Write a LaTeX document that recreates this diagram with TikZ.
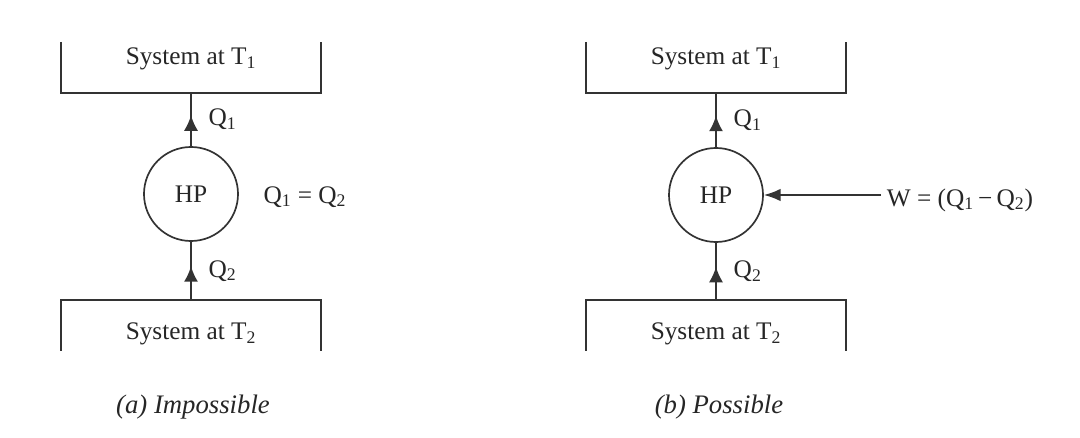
\documentclass[tikz,border=0pt]{standalone}
\usepackage{fontspec}
\setmainfont{Liberation Serif}
\usetikzlibrary{calc,arrows.meta,decorations.markings}

\begin{document}
\begin{tikzpicture}[x=0.025cm,y=-0.025cm]
    % Style definitions
    \tikzset{
      wall/.style={draw=black!80, line width=1.2pt},
      flow/.style={wall, postaction={decorate},
        decoration={markings, mark=at position 0.58 with {\arrow{Latex[length=11pt,width=10pt]}}}},
      lbl/.style={font=\fontsize{18}{21}\selectfont, text=black!85, inner sep=1pt},
      capt/.style={font=\fontsize{19}{22}\selectfont\itshape, text=black!85, inner sep=1pt},
      pump/.style={wall, circle, minimum size=2.35cm, inner sep=0pt, lbl},
    }
    \useasboundingbox (0,0) rectangle (1080,438);
    % ------------------------------------------------------------------
    % Helper macro: open reservoir box named #1, open edge centred at
    % (#2,#3); #4 = 1 walls go up, #4 = -1 walls go down; #5 its text
    % ------------------------------------------------------------------
    \newcommand{\reservoir}[5]{%
      \coordinate (#1) at (#2,#3);
      \draw[wall] ($(#1)+(-130,{-(#4)*51})$) -- ($(#1)+(-130,0)$)
        -- ($(#1)+(130,0)$) -- ($(#1)+(130,{-(#4)*51})$);
      \node[lbl] (#1-txt) at ($(#1)+(0,{-(#4)*34})$) {#5};
    }

    % (a) heat pump with no work input
    \reservoir{hotA}{191}{93}{1}{System at T\textsubscript{1}}
    \reservoir{coldA}{191}{300}{-1}{System at T\textsubscript{2}}
    \node[pump] (hpA) at (191,194) {HP};
    \draw[flow] (hpA) -- (hotA) node[lbl, midway, right=11pt] (qA1) {Q\textsubscript{1}};
    \draw[flow] (coldA) -- (hpA) node[lbl, midway, right=11pt] (qA2) {Q\textsubscript{2}};
    \node[lbl] (eqA) at (305,197) {Q\textsubscript{1} = Q\textsubscript{2}};
    \node[capt] (captA) at (193,407) {(a) Impossible};

    % (b) heat pump driven by work W
    \reservoir{hotB}{716}{93}{1}{System at T\textsubscript{1}}
    \reservoir{coldB}{716}{300}{-1}{System at T\textsubscript{2}}
    \node[pump] (hpB) at (716,195) {HP};
    \draw[flow] (hpB) -- (hotB) node[lbl, midway, right=11pt] (qB1) {Q\textsubscript{1}};
    \draw[flow] (coldB) -- (hpB) node[lbl, midway, right=11pt] (qB2) {Q\textsubscript{2}};
    \node[lbl, anchor=west, inner sep=4pt] (work) at (881,200) {W = (Q\textsubscript{1}\,−\,Q\textsubscript{2})};
    \draw[wall, -{Latex[length=12pt,width=9pt]}] (work.west |- hpB) -- (hpB);
    \node[capt] (captB) at (719,407) {(b) Possible};
  \end{tikzpicture}
\end{document}
